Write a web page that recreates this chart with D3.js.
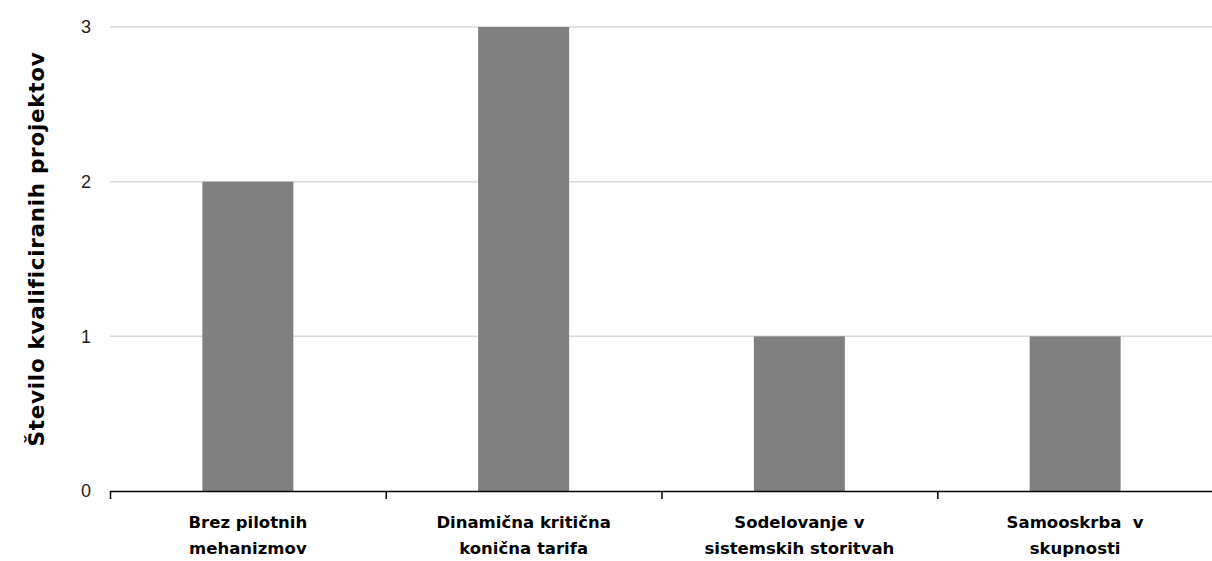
<!DOCTYPE html>
<html><head><meta charset="utf-8">
<script src="https://cdn.jsdelivr.net/npm/d3@7"></script>
<style>body{margin:0;background:#fff} text{white-space:pre}</style>
</head><body>
<svg id="c" width="1212" height="561"></svg>
<script>
const categories = [["Brez pilotnih","mehanizmov"],["Dinamična kritična","konična tarifa"],["Sodelovanje v","sistemskih storitvah"],["Samooskrba  v","skupnosti"]];
const values = [2,3,1,1];
const yTicks = [0,1,2,3];
const yTitle = "Število kvalificiranih projektov";

(function(){
const svg = d3.select("#c");
const mLeft = 110, mRight = 1213, mTop = 27, mBottom = 491;
const x = d3.scaleBand().domain(d3.range(categories.length)).range([mLeft,mRight]).paddingInner(0).paddingOuter(0);
const y = d3.scaleLinear().domain([0,3]).range([mBottom, mTop]);
const font = "'DejaVu Sans', sans-serif";

svg.append("g").selectAll("line").data(yTicks.filter(d=>d>0)).join("line")
  .attr("x1", mLeft).attr("x2", 1212).attr("y1", d=>y(d)).attr("y2", d=>y(d))
  .attr("stroke", "#d9d9d9").attr("stroke-width", 1.5);

svg.append("g").selectAll("text").data(yTicks).join("text")
  .attr("x", 91).attr("y", d=>y(d)).attr("dy","0.35em").attr("text-anchor","end")
  .attr("font-family", "'Liberation Sans', sans-serif").attr("font-size", 18).attr("fill","#222").text(d=>d);

const bw = 91;
svg.append("g").selectAll("rect").data(values).join("rect")
  .attr("x", (d,i)=>x(i)+x.bandwidth()/2-bw/2).attr("width", bw)
  .attr("y", d=>y(d)).attr("height", d=>mBottom-y(d)).attr("fill","#808080");

const ax = svg.append("g");
ax.append("line").attr("x1", mLeft).attr("x2", 1212).attr("y1", mBottom+0.5).attr("y2", mBottom+0.5)
  .attr("stroke","#000").attr("stroke-width",1.5);
ax.selectAll("line.t").data(d3.range(categories.length)).join("line").attr("class","t")
  .attr("x1", d=>x(d)+0.5).attr("x2", d=>x(d)+0.5).attr("y1", mBottom).attr("y2", mBottom+8)
  .attr("stroke","#000").attr("stroke-width",1.5);

const lab = svg.append("g").selectAll("text").data(categories).join("text")
  .attr("text-anchor","middle").attr("font-family", font).attr("font-weight","bold")
  .attr("font-size", 16.5).attr("fill","#000");
lab.each(function(d,i){
  const t = d3.select(this);
  d.forEach((line,j)=>{
    t.append("tspan").attr("x", x(i)+x.bandwidth()/2).attr("y", 528 + j*26).text(line);
  });
});

svg.append("text").attr("transform", `translate(44,249) rotate(-90)`)
  .attr("text-anchor","middle").attr("font-family", font).attr("font-weight","bold")
  .attr("font-size", 21.5).attr("letter-spacing", 0.7).attr("fill","#000").text(yTitle);
})();
</script>
</body></html>
